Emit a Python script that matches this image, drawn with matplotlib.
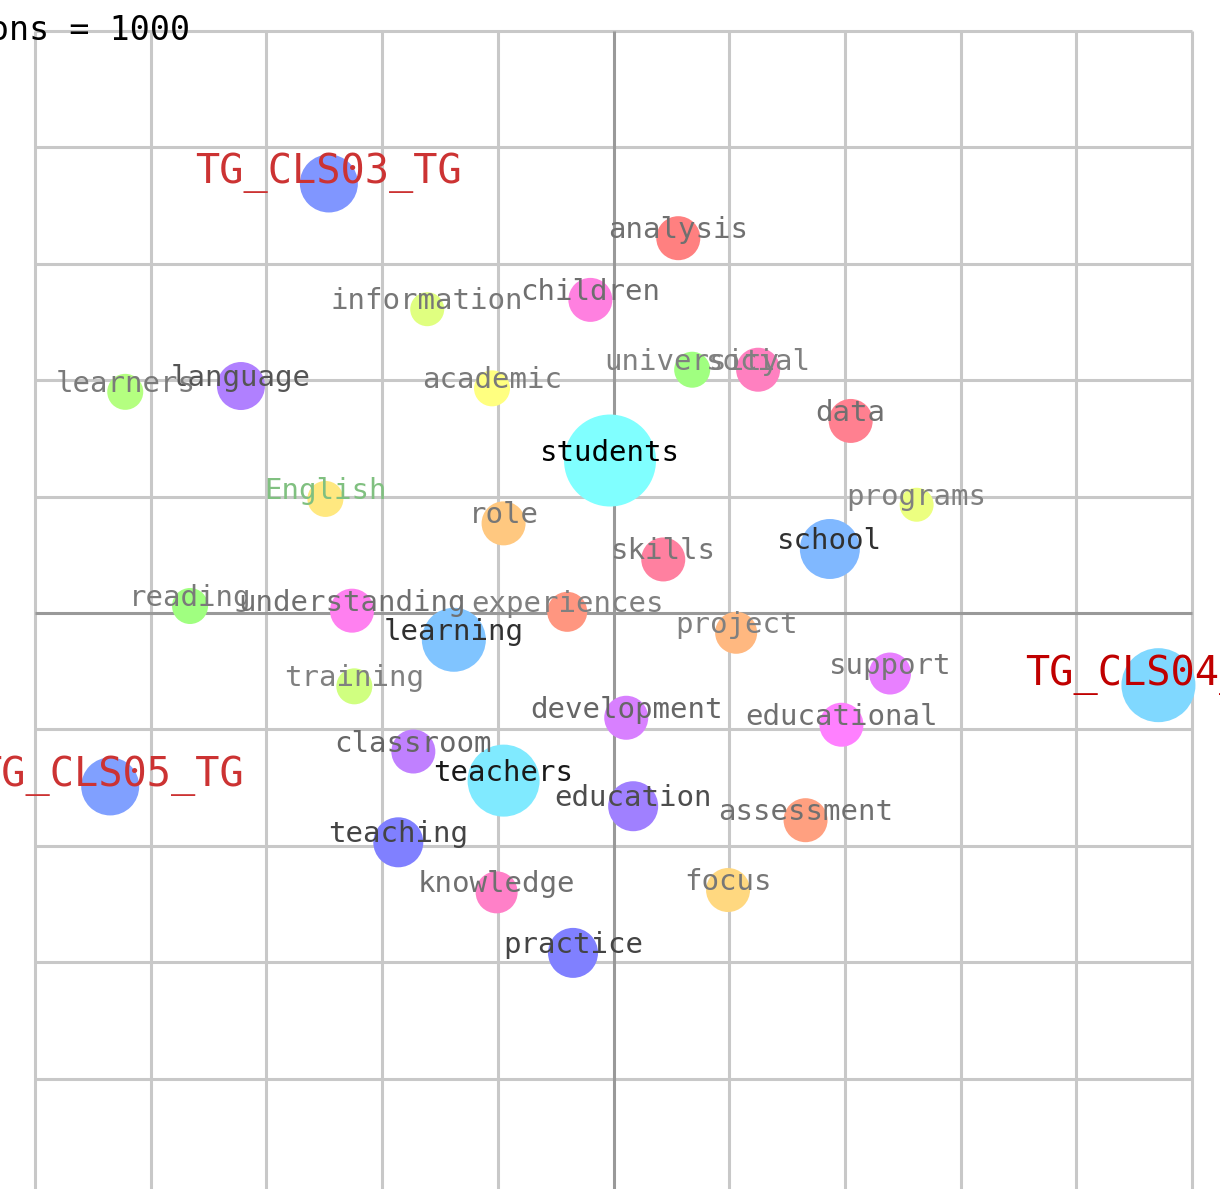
import matplotlib
matplotlib.use("Agg")
import matplotlib.pyplot as plt

# ---- data (chart units) ----
words = ["students", "teachers", "school", "learning", "teaching", "practice",
         "education", "language", "analysis", "children", "information",
         "learners", "academic", "university", "social", "data", "English",
         "programs", "role", "skills", "reading", "understanding",
         "experiences", "project", "training", "support", "development",
         "educational", "classroom", "assessment", "knowledge", "focus"]
word_x = [-0.03, -0.95, 1.87, -1.38, -1.86, -0.35, 0.17, -3.22, 0.56, -0.20,
          -1.61, -4.22, -1.05, 0.68, 1.25, 2.05, -2.49, 2.62, -0.95, 0.43,
          -3.66, -2.26, -0.40, 1.06, -2.24, 2.39, 0.11, 1.97, -1.73, 1.66,
          -1.01, 0.99]
word_y = [1.31, -1.44, 0.55, -0.23, -1.97, -2.92, -1.66, 1.95, 3.22, 2.69,
          2.61, 1.90, 1.93, 2.09, 2.09, 1.65, 0.98, 0.93, 0.77, 0.46,
          0.06, 0.02, 0.01, -0.17, -0.63, -0.52, -0.90, -0.96, -1.19, -1.78,
          -2.40, -2.38]
word_size = [46, 36, 30, 32, 25, 25, 25, 24, 22, 22, 17, 18, 18, 18, 22, 22,
             18, 17, 22, 22, 18, 22, 20, 21, 18, 21, 22, 22, 22, 22, 21, 22]
word_color = ["#80ffff", "#80eaff", "#80b8ff", "#80c4ff", "#8080ff", "#8080ff",
              "#a080ff", "#b080ff", "#ff8080", "#ff80e0", "#e0ff80", "#b4ff80",
              "#ffff80", "#a0ff80", "#ff80c0", "#ff8090", "#ffe880", "#ecff80",
              "#ffc880", "#ff80a0", "#a0ff80", "#ff80f0", "#ff9680", "#ffb880",
              "#d0ff80", "#e880ff", "#d880ff", "#ff80ff", "#c080ff", "#ffa080",
              "#ff80c8", "#ffd880"]
word_label_color = ["#000000", "#1a1a1a", "#303030", "#303030", "#444444",
                    "#444444", "#4d4d4d", "#555555", "#707070", "#6e6e6e",
                    "#777777", "#7a7a7a", "#7a7a7a", "#808080", "#808080",
                    "#707070", "#80c080", "#808080", "#777777", "#777777",
                    "#7a7a7a", "#707070", "#808080", "#808080", "#808080",
                    "#777777", "#666666", "#707070", "#666666", "#707070",
                    "#707070", "#777777"]

clusters = ["TG_CLS03_TG", "TG_CLS04_TG", "TG_CLS05_TG"]
cluster_x = [-2.46, 4.71, -4.35]
cluster_y = [3.69, -0.62, -1.49]
cluster_size = [29, 37, 29]
cluster_color = ["#8096ff", "#80d8ff", "#80a0ff"]
cluster_label_color = ["#cc3333", "#c00000", "#cc3333"]

grid_ticks = [-5, -4, -3, -2, -1, 0, 1, 2, 3, 4, 5]
iter_label = "Iterations = 1000"

# ---- figure ----
W, H, DPI = 1220, 1189, 100
fig = plt.figure(figsize=(W / DPI, H / DPI), dpi=DPI)
ax = fig.add_axes([0, 0, 1, 1])
ux, uy = 115.7, 116.4
ax.set_xlim(-5 - 35 / ux, 5 + 28 / ux)
ax.set_ylim((613 - 1189) / uy, 5 + 31 / uy)
ax.axis("off")

for t in grid_ticks:
    c = "#999999" if t == 0 else "#c8c8c8"
    lw = 2.2
    z = 1 if t == 0 else 0
    ax.plot([t, t], [-6, 5], color=c, lw=lw, zorder=z, solid_capstyle="butt")
    ax.plot([-5, 5], [t, t], color=c, lw=lw, zorder=z, solid_capstyle="butt")

px2pt = 72 / DPI
ax.scatter(word_x, word_y, s=[(2 * r * px2pt) ** 2 for r in word_size],
           c=word_color, linewidths=0, zorder=2)
ax.scatter(cluster_x, cluster_y, s=[(2 * r * px2pt) ** 2 for r in cluster_size],
           c=cluster_color, linewidths=0, zorder=2)

mono = "DejaVu Sans Mono"
for w, x, y, col in zip(words, word_x, word_y, word_label_color):
    ax.text(x, y, w, ha="center", va="baseline", fontsize=21, family=mono,
            color=col, zorder=3)
for w, x, y, col in zip(clusters, cluster_x, cluster_y, cluster_label_color):
    ax.text(x, y, w, ha="center", va="baseline", fontsize=29, family=mono,
            color=col, zorder=3)

fig.text(190 / W, 1 - 40 / H, iter_label, ha="right", va="baseline",
         fontsize=24, family=mono, color="#000000")

fig.savefig("out.png", dpi=DPI, facecolor="white")
